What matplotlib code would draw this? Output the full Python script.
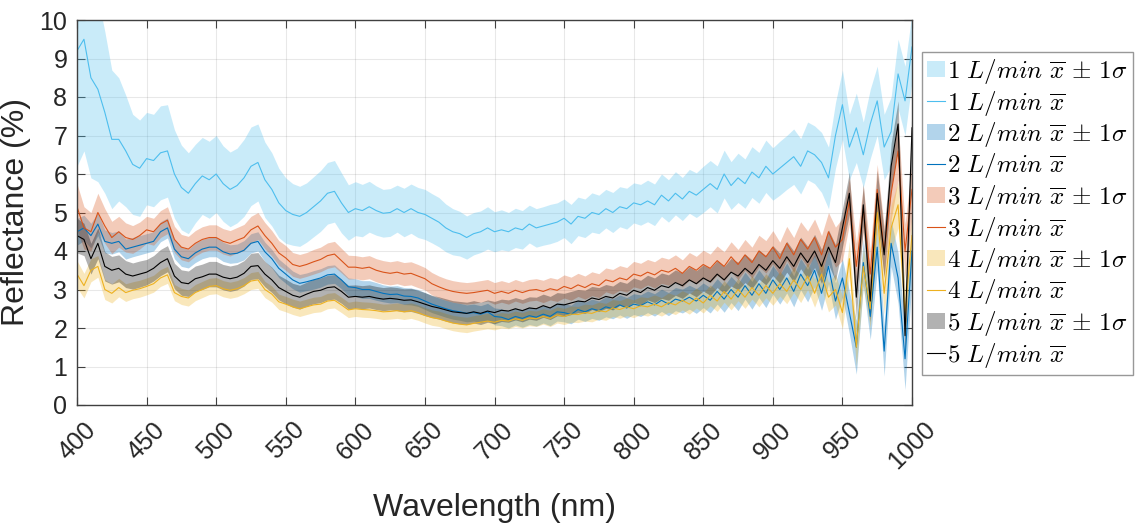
import numpy as np
import matplotlib
matplotlib.use("Agg")
import matplotlib.pyplot as plt

plt.rcParams['mathtext.fontset'] = 'cm'
plt.rcParams['font.family'] = ['Liberation Sans', 'DejaVu Sans']

# Wavelength grid (nm)
wavelength = np.arange(400, 1001, 5)

flow_labels = ["1", "2", "3", "4", "5"]
colors = ["#4DBEEE", "#0072BD", "#D95319", "#EDB120", "#000000"]

# Mean reflectance (%) and standard deviation for each flow rate
mean_1 = [9.2, 9.5, 8.5, 8.2, 7.6, 6.9, 6.9, 6.6, 6.25, 6.15,
          6.4, 6.35, 6.55, 6.6, 6.0, 5.65, 5.5, 5.75, 5.95, 5.85,
          6.0, 5.75, 5.6, 5.7, 5.9, 6.2, 6.3, 5.85, 5.6, 5.25,
          5.05, 4.95, 4.9, 5.0, 5.15, 5.3, 5.5, 5.55, 5.25, 5.0,
          5.1, 5.05, 5.15, 5.05, 4.98, 5.0, 5.1, 5.0, 5.1, 5.0,
          4.95, 4.85, 4.75, 4.6, 4.5, 4.45, 4.35, 4.45, 4.5, 4.6,
          4.5, 4.55, 4.5, 4.6, 4.55, 4.7, 4.6, 4.65, 4.7, 4.75,
          4.85, 4.7, 4.9, 4.85, 5.0, 4.95, 5.1, 5.0, 5.15, 5.1,
          5.25, 5.2, 5.3, 5.2, 5.45, 5.3, 5.5, 5.35, 5.55, 5.45,
          5.6, 5.75, 5.6, 6.0, 5.7, 5.9, 5.75, 6.05, 5.9, 6.2,
          6.0, 6.15, 6.3, 6.45, 6.2, 6.6, 6.5, 6.3, 5.9, 7.0,
          7.8, 6.7, 7.2, 6.5, 7.3, 7.9, 6.7, 7.1, 8.6, 7.9,
          9.3]
std_1 = [3.0, 2.9, 2.6, 2.4, 2.1, 1.8, 1.6, 1.45, 1.3, 1.25,
         1.2, 1.2, 1.22, 1.2, 1.15, 1.1, 1.05, 1.02, 1.0, 1.0,
         1.0, 0.98, 0.97, 0.97, 1.0, 1.02, 1.0, 0.98, 0.95, 0.9,
         0.85, 0.8, 0.78, 0.77, 0.78, 0.79, 0.8, 0.8, 0.78, 0.72,
         0.7, 0.68, 0.66, 0.64, 0.62, 0.62, 0.61, 0.63, 0.64, 0.65,
         0.65, 0.64, 0.64, 0.62, 0.6, 0.58, 0.56, 0.55, 0.54, 0.55,
         0.52, 0.52, 0.5, 0.51, 0.5, 0.49, 0.5, 0.5, 0.51, 0.5,
         0.5, 0.51, 0.5, 0.5, 0.51, 0.5, 0.5, 0.52, 0.52, 0.53,
         0.52, 0.53, 0.54, 0.54, 0.55, 0.55, 0.56, 0.56, 0.57, 0.58,
         0.6, 0.6, 0.61, 0.62, 0.62, 0.64, 0.64, 0.66, 0.66, 0.68,
         0.68, 0.7, 0.7, 0.72, 0.72, 0.75, 0.75, 0.78, 0.8, 0.85,
         0.9, 0.85, 0.9, 0.85, 0.9, 0.9, 0.85, 0.9, 0.9, 0.9,
         0.9]

mean_2 = [4.5, 4.6, 4.4, 4.7, 4.25, 4.2, 4.25, 4.05, 4.1, 4.15,
          4.2, 4.25, 4.5, 4.6, 4.05, 3.85, 3.8, 3.95, 4.05, 4.1,
          4.1, 3.98, 3.92, 3.94, 4.02, 4.2, 4.25, 3.98, 3.8, 3.55,
          3.4, 3.25, 3.16, 3.2, 3.25, 3.3, 3.38, 3.4, 3.25, 3.07,
          3.05, 3.0, 3.0, 2.95, 2.9, 2.87, 2.88, 2.83, 2.82, 2.78,
          2.7, 2.62, 2.56, 2.5, 2.45, 2.42, 2.38, 2.4, 2.36, 2.42,
          2.3, 2.28, 2.22, 2.3, 2.25, 2.32, 2.28, 2.36, 2.3, 2.42,
          2.4, 2.35, 2.48, 2.42, 2.5, 2.45, 2.55, 2.5, 2.6, 2.52,
          2.62, 2.58, 2.68, 2.6, 2.72, 2.62, 2.75, 2.7, 2.8, 2.7,
          2.85, 2.72, 2.95, 2.75, 3.0, 2.8, 3.1, 2.85, 3.15, 2.9,
          3.25, 3.0, 3.3, 2.95, 3.4, 3.1, 3.5, 2.9, 3.6, 2.7,
          3.3, 2.4, 1.5, 3.7, 2.3, 4.1, 1.4, 4.2, 3.3, 1.2,
          4.0]
std_2 = [0.35, 0.33, 0.32, 0.3, 0.3, 0.28, 0.27, 0.26, 0.25, 0.25,
         0.25, 0.25, 0.26, 0.26, 0.25, 0.25, 0.24, 0.25, 0.25, 0.25,
         0.25, 0.25, 0.24, 0.24, 0.25, 0.25, 0.25, 0.25, 0.24, 0.24,
         0.24, 0.23, 0.23, 0.23, 0.24, 0.24, 0.24, 0.24, 0.23, 0.23,
         0.23, 0.23, 0.23, 0.23, 0.22, 0.22, 0.22, 0.22, 0.22, 0.22,
         0.22, 0.22, 0.22, 0.22, 0.22, 0.22, 0.22, 0.22, 0.22, 0.22,
         0.22, 0.22, 0.22, 0.22, 0.23, 0.23, 0.23, 0.23, 0.24, 0.24,
         0.24, 0.24, 0.25, 0.25, 0.25, 0.25, 0.26, 0.26, 0.26, 0.27,
         0.27, 0.28, 0.28, 0.29, 0.29, 0.3, 0.3, 0.31, 0.31, 0.32,
         0.32, 0.33, 0.33, 0.34, 0.34, 0.35, 0.35, 0.36, 0.36, 0.37,
         0.37, 0.38, 0.39, 0.4, 0.41, 0.42, 0.43, 0.44, 0.45, 0.47,
         0.5, 0.55, 0.7, 0.6, 0.6, 0.6, 0.65, 0.6, 0.65, 0.8,
         0.7]

mean_3 = [5.15, 4.6, 4.5, 5.0, 4.65, 4.35, 4.5, 4.35, 4.3, 4.4,
          4.55, 4.5, 4.7, 4.8, 4.3, 4.1, 4.05, 4.2, 4.3, 4.35,
          4.35, 4.25, 4.2, 4.28, 4.35, 4.55, 4.65, 4.4, 4.2, 3.95,
          3.82, 3.65, 3.6, 3.65, 3.72, 3.78, 3.88, 3.92, 3.75, 3.58,
          3.58, 3.55, 3.58, 3.5, 3.45, 3.42, 3.45, 3.4, 3.42, 3.35,
          3.28, 3.15, 3.07, 3.0, 2.95, 2.92, 2.9, 2.92, 2.95, 2.98,
          2.9, 2.95, 2.9, 2.98, 2.92, 2.98, 3.0, 2.95, 3.02, 2.98,
          3.08, 3.02, 3.12, 3.05, 3.15, 3.1, 3.25, 3.2, 3.3, 3.25,
          3.4, 3.35, 3.45, 3.38, 3.5, 3.45, 3.55, 3.42, 3.6, 3.5,
          3.65, 3.55, 3.75, 3.6, 3.85, 3.65, 3.9, 3.7, 4.0, 3.85,
          4.1, 3.8, 4.2, 3.9, 4.3, 4.05, 4.35, 3.9, 4.5, 4.1,
          4.3, 5.3, 3.6, 5.1, 3.4, 5.6, 4.0, 5.5, 6.6, 4.0,
          5.6]
std_3 = [0.6, 0.55, 0.5, 0.5, 0.45, 0.42, 0.4, 0.38, 0.36, 0.35,
         0.35, 0.35, 0.35, 0.35, 0.34, 0.33, 0.33, 0.33, 0.33, 0.33,
         0.33, 0.33, 0.33, 0.33, 0.34, 0.35, 0.35, 0.34, 0.33, 0.32,
         0.32, 0.31, 0.31, 0.31, 0.32, 0.32, 0.33, 0.33, 0.32, 0.31,
         0.3, 0.3, 0.3, 0.3, 0.3, 0.3, 0.3, 0.3, 0.3, 0.3,
         0.29, 0.29, 0.28, 0.28, 0.28, 0.28, 0.28, 0.28, 0.28, 0.28,
         0.28, 0.28, 0.28, 0.28, 0.28, 0.28, 0.28, 0.29, 0.29, 0.29,
         0.3, 0.3, 0.3, 0.3, 0.31, 0.31, 0.31, 0.32, 0.32, 0.32,
         0.33, 0.33, 0.33, 0.34, 0.34, 0.34, 0.35, 0.35, 0.36, 0.36,
         0.37, 0.37, 0.38, 0.38, 0.39, 0.39, 0.4, 0.4, 0.41, 0.42,
         0.43, 0.43, 0.44, 0.45, 0.46, 0.47, 0.48, 0.5, 0.5, 0.52,
         0.55, 0.6, 0.6, 0.6, 0.62, 0.65, 0.65, 0.7, 0.75, 0.7,
         0.7]

mean_4 = [3.4, 3.1, 3.5, 3.6, 3.0, 2.9, 3.05, 2.92, 2.98, 3.02,
          3.08, 3.15, 3.3, 3.38, 2.92, 2.82, 2.78, 2.92, 3.0, 3.08,
          3.1, 3.02, 2.98, 3.02, 3.1, 3.22, 3.25, 3.0, 2.88, 2.68,
          2.62, 2.55, 2.5, 2.55, 2.6, 2.62, 2.7, 2.72, 2.6, 2.47,
          2.5, 2.48, 2.47, 2.45, 2.42, 2.43, 2.45, 2.42, 2.45, 2.4,
          2.33, 2.27, 2.24, 2.18, 2.13, 2.1, 2.08, 2.12, 2.15, 2.18,
          2.15, 2.2, 2.18, 2.24, 2.2, 2.26, 2.24, 2.3, 2.25, 2.34,
          2.3, 2.36, 2.35, 2.4, 2.38, 2.45, 2.42, 2.52, 2.48, 2.55,
          2.5, 2.58, 2.55, 2.62, 2.55, 2.66, 2.6, 2.72, 2.62, 2.78,
          2.65, 2.85, 2.7, 2.95, 2.75, 3.0, 2.8, 3.05, 2.85, 3.1,
          2.9, 3.15, 2.95, 3.25, 3.0, 3.35, 2.9, 3.4, 2.8, 3.0,
          2.4, 3.8, 1.5, 3.6, 2.5, 5.0, 2.9, 4.6, 5.2, 2.4,
          4.4]
std_4 = [0.35, 0.32, 0.3, 0.28, 0.26, 0.25, 0.24, 0.23, 0.22, 0.22,
         0.22, 0.22, 0.22, 0.22, 0.21, 0.21, 0.21, 0.21, 0.21, 0.21,
         0.21, 0.21, 0.21, 0.21, 0.21, 0.22, 0.22, 0.21, 0.21, 0.2,
         0.2, 0.2, 0.2, 0.2, 0.2, 0.2, 0.2, 0.2, 0.2, 0.2,
         0.2, 0.2, 0.2, 0.2, 0.2, 0.2, 0.2, 0.2, 0.2, 0.2,
         0.2, 0.2, 0.2, 0.2, 0.2, 0.2, 0.2, 0.2, 0.2, 0.2,
         0.2, 0.2, 0.2, 0.2, 0.2, 0.2, 0.2, 0.2, 0.21, 0.21,
         0.21, 0.21, 0.21, 0.22, 0.22, 0.22, 0.22, 0.22, 0.23, 0.23,
         0.23, 0.23, 0.24, 0.24, 0.24, 0.25, 0.25, 0.25, 0.26, 0.26,
         0.26, 0.27, 0.27, 0.28, 0.28, 0.29, 0.29, 0.3, 0.3, 0.31,
         0.31, 0.32, 0.32, 0.33, 0.34, 0.35, 0.36, 0.37, 0.38, 0.4,
         0.42, 0.45, 0.5, 0.5, 0.5, 0.55, 0.55, 0.6, 0.6, 0.6,
         0.6]

mean_5 = [4.4, 4.3, 3.8, 4.2, 3.6, 3.5, 3.55, 3.4, 3.35, 3.4,
          3.45, 3.55, 3.7, 3.8, 3.35, 3.18, 3.15, 3.28, 3.33, 3.4,
          3.4, 3.32, 3.28, 3.32, 3.42, 3.6, 3.62, 3.4, 3.25, 3.05,
          2.95, 2.85, 2.8, 2.88, 2.95, 2.98, 3.05, 3.07, 2.95, 2.8,
          2.82, 2.8, 2.82, 2.78, 2.75, 2.77, 2.75, 2.72, 2.73, 2.68,
          2.62, 2.56, 2.52, 2.47, 2.42, 2.4, 2.38, 2.42, 2.38, 2.44,
          2.4, 2.46, 2.44, 2.5, 2.45, 2.52, 2.5, 2.58, 2.52, 2.62,
          2.6, 2.65, 2.7, 2.68, 2.78, 2.74, 2.82, 2.78, 2.9, 2.85,
          2.98, 2.92, 3.05, 2.98, 3.1, 3.05, 3.18, 3.1, 3.25, 3.15,
          3.3, 3.2, 3.4, 3.25, 3.45, 3.35, 3.55, 3.4, 3.65, 3.5,
          3.75, 3.55, 3.85, 3.6, 3.95, 3.7, 4.0, 3.6, 4.1, 3.7,
          4.6, 5.5, 2.8, 5.2, 2.7, 5.5, 3.9, 6.2, 7.3, 1.8,
          7.2]
std_5 = [0.45, 0.42, 0.4, 0.4, 0.38, 0.36, 0.35, 0.35, 0.34, 0.34,
         0.33, 0.33, 0.34, 0.34, 0.33, 0.33, 0.33, 0.33, 0.33, 0.33,
         0.33, 0.33, 0.33, 0.33, 0.33, 0.34, 0.34, 0.33, 0.33, 0.32,
         0.32, 0.31, 0.31, 0.31, 0.32, 0.32, 0.32, 0.32, 0.31, 0.31,
         0.3, 0.3, 0.3, 0.3, 0.3, 0.3, 0.3, 0.3, 0.3, 0.3,
         0.3, 0.29, 0.29, 0.29, 0.29, 0.29, 0.29, 0.29, 0.29, 0.29,
         0.29, 0.29, 0.29, 0.29, 0.29, 0.29, 0.3, 0.3, 0.3, 0.3,
         0.3, 0.3, 0.3, 0.3, 0.3, 0.31, 0.31, 0.31, 0.31, 0.31,
         0.32, 0.32, 0.32, 0.32, 0.33, 0.33, 0.33, 0.33, 0.34, 0.34,
         0.34, 0.35, 0.35, 0.35, 0.36, 0.36, 0.37, 0.37, 0.38, 0.38,
         0.39, 0.39, 0.4, 0.4, 0.41, 0.42, 0.43, 0.44, 0.45, 0.47,
         0.5, 0.55, 0.55, 0.55, 0.55, 0.6, 0.6, 0.6, 0.6, 0.6,
         0.6]

means = [mean_1, mean_2, mean_3, mean_4, mean_5]
stds = [std_1, std_2, std_3, std_4, std_5]

fig = plt.figure(figsize=(11.35, 5.26), dpi=100)
ax = fig.add_axes([77 / 1135, 121 / 526, 835 / 1135, 385 / 526])

for lab, col, m, s in zip(flow_labels, colors, means, stds):
    m = np.asarray(m)
    s = np.asarray(s)
    ax.fill_between(wavelength, m - s, m + s, color=col, alpha=0.3,
                    linewidth=0,
                    label=r'$%s\ L/min\ \overline{x}\,\pm\,1\sigma$' % lab)
    ax.plot(wavelength, m, color=col, linewidth=0.8,
            label=r'$%s\ L/min\ \overline{x}$' % lab)

ax.set_xlim(400, 1000)
ax.set_ylim(0, 10)
ax.set_xticks(np.arange(400, 1001, 50))
ax.set_yticks(np.arange(0, 11, 1))

axis_color = '#404040'
for sp in ax.spines.values():
    sp.set_color(axis_color)
    sp.set_linewidth(1.0)
ax.tick_params(axis='both', direction='in', length=6, width=0.8,
               color=axis_color, labelcolor='#262626', labelsize=18,
               top=True, right=True)
ax.tick_params(axis='x', pad=9)
ax.tick_params(axis='y', pad=7)
for t in ax.get_xticklabels():
    t.set_rotation(45)

ax.grid(True, color='#262626', alpha=0.1, linewidth=0.8)
ax.set_axisbelow(True)

ax.set_xlabel('Wavelength (nm)', fontsize=23, color='#262626', labelpad=14)
ax.set_ylabel('Reflectance (%)', fontsize=23, color='#262626', labelpad=6)

leg = ax.legend(loc='upper left', bbox_to_anchor=(922 / 1135, 1 - 52 / 526),
                bbox_transform=fig.transFigure, borderaxespad=0,
                fontsize=18, frameon=True, fancybox=False,
                handlelength=0.7, handleheight=0.6, handletextpad=0.1,
                labelspacing=0.1, borderpad=0.2)
leg.get_frame().set_edgecolor('#7f7f7f')
leg.get_frame().set_linewidth(1.0)

fig.savefig('out.png', dpi=100)
